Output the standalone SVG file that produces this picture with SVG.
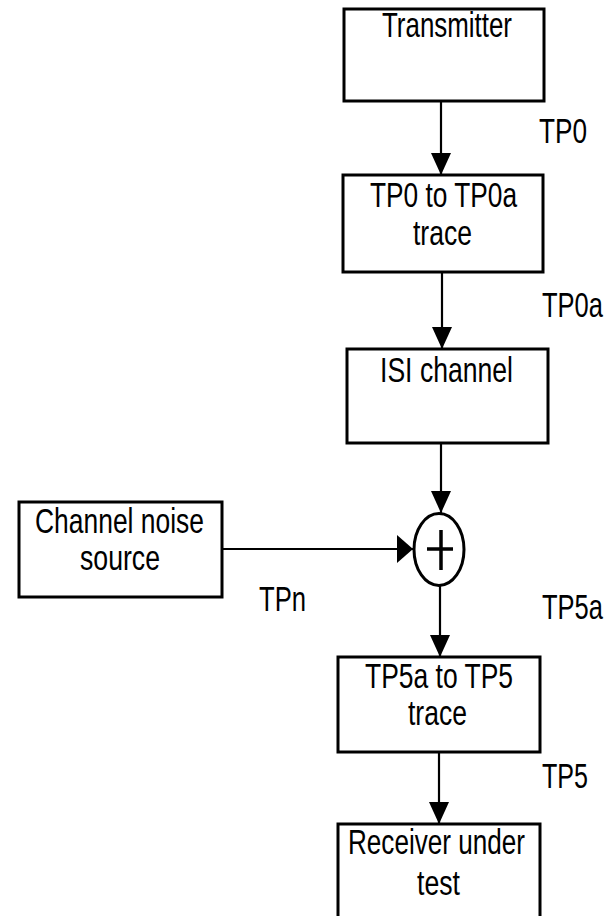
<svg xmlns="http://www.w3.org/2000/svg" width="610" height="916" viewBox="0 0 610 916">
<style>
.box{fill:#fff;stroke:#000;stroke-width:3}
.t{font-family:"Liberation Sans",Arial,sans-serif;font-size:35px;fill:#000}
.s{font-family:"Liberation Sans",Arial,sans-serif;font-size:25.5px;fill:#000}
.c{fill:none;stroke:#000;stroke-width:2.2}
</style>
<defs>
<marker id="av" markerUnits="userSpaceOnUse" markerWidth="22" markerHeight="20" refX="22" refY="10" orient="auto" viewBox="0 0 22 20"><path d="M0,0 L22,10 L0,20 z" fill="#000"/></marker>
<marker id="ah" markerUnits="userSpaceOnUse" markerWidth="16" markerHeight="28" refX="16" refY="14" orient="auto" viewBox="0 0 16 28"><path d="M0,0 L16,14 L0,28 z" fill="#000"/></marker>
</defs>
<rect width="610" height="916" fill="#fff"/>
<g id="connectors">
<line class="c" x1="441" y1="101" x2="441" y2="175" marker-end="url(#av)"/>
<line class="c" x1="442" y1="272" x2="442" y2="349" marker-end="url(#av)"/>
<line class="c" x1="441" y1="443" x2="441" y2="513" marker-end="url(#av)"/>
<line class="c" x1="222" y1="549" x2="413" y2="549" marker-end="url(#ah)"/>
<line class="c" x1="440" y1="586" x2="440" y2="657" marker-end="url(#av)"/>
<line class="c" x1="439" y1="752" x2="439" y2="824" marker-end="url(#av)"/>
</g>
<g id="transmitter">
<rect class="box" x="344" y="9" width="200" height="92"/>
<text class="t" x="382" y="37" textLength="130" lengthAdjust="spacingAndGlyphs">Transmitter</text>
</g>
<g id="tp0-trace">
<rect class="box" x="343" y="175" width="200" height="97"/>
<text class="t" x="370" y="207" textLength="147" lengthAdjust="spacingAndGlyphs">TP0 to TP0a</text>
<text class="t" x="413" y="245" textLength="59" lengthAdjust="spacingAndGlyphs">trace</text>
</g>
<g id="isi-channel">
<rect class="box" x="347" y="349" width="201" height="94"/>
<text class="t" x="380" y="382" textLength="133" lengthAdjust="spacingAndGlyphs">ISI channel</text>
</g>
<g id="noise-source">
<rect class="box" x="19" y="502" width="203" height="95"/>
<text class="t" x="35" y="533" textLength="169" lengthAdjust="spacingAndGlyphs">Channel noise</text>
<text class="t" x="80" y="570" textLength="80" lengthAdjust="spacingAndGlyphs">source</text>
</g>
<g id="summer">
<ellipse cx="439" cy="549.5" rx="25" ry="36" fill="#fff" stroke="#000" stroke-width="3"/>
<path d="M427,549 H453 M441,530 V570" stroke="#000" stroke-width="3.5" fill="none"/>
</g>
<g id="tp5-trace">
<rect class="box" x="338" y="657" width="202" height="95"/>
<text class="t" x="365" y="688" textLength="148" lengthAdjust="spacingAndGlyphs">TP5a to TP5</text>
<text class="t" x="408" y="725" textLength="59" lengthAdjust="spacingAndGlyphs">trace</text>
</g>
<g id="receiver">
<rect class="box" x="338" y="824" width="202" height="110"/>
<text class="t" x="348" y="854" textLength="177" lengthAdjust="spacingAndGlyphs">Receiver under</text>
<text class="t" x="417" y="895" textLength="43" lengthAdjust="spacingAndGlyphs">test</text>
</g>
<g id="labels">
<text class="t" x="539" y="143" textLength="48" lengthAdjust="spacingAndGlyphs">TP0</text>
<text class="s" transform="translate(542,317) scale(1,1.37)">TP0a</text>
<text class="t" x="259" y="611" textLength="47" lengthAdjust="spacingAndGlyphs">TPn</text>
<text class="s" transform="translate(542,619) scale(1,1.37)">TP5a</text>
<text class="t" x="542" y="788" textLength="46" lengthAdjust="spacingAndGlyphs">TP5</text>
</g>
</svg>
